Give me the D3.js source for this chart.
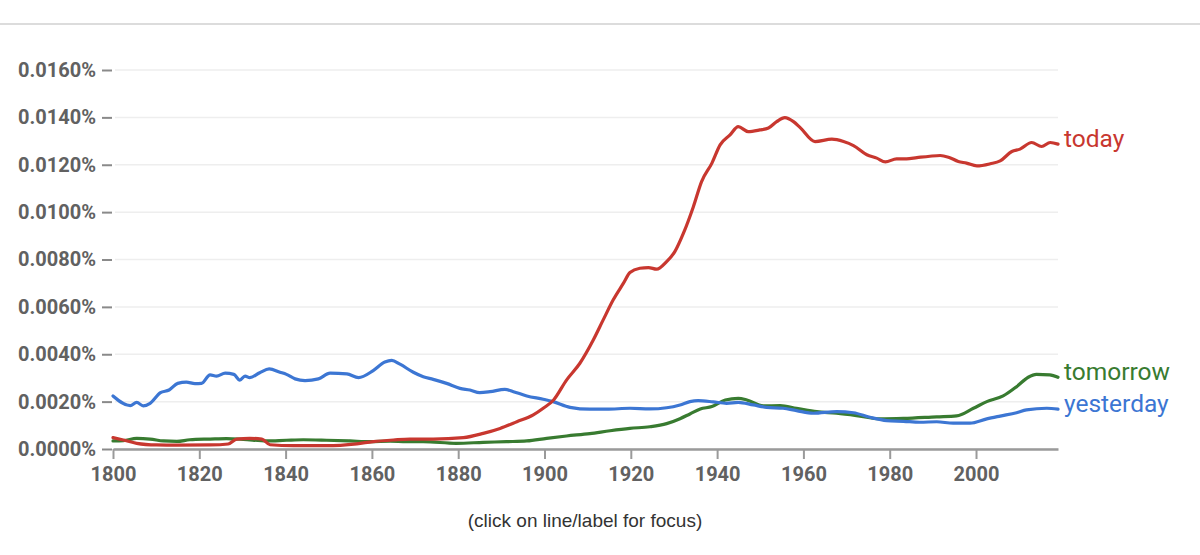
<!DOCTYPE html>
<html>
<head>
<meta charset="utf-8">
<script src="https://cdn.jsdelivr.net/npm/d3@7"></script>
<style>
	body { margin: 0; background: white; }
</style>
</head>
<body>
<script>
// values in percent
var todayYears = [1800, 1802.4, 1805.5, 1810.1, 1814.8, 1822.5, 1826.7, 1828.7, 1831.7, 1834.5, 1836.4, 1841.8, 1849.5, 1856.5, 1860.3, 1865, 1868.8, 1874.2, 1881.2, 1885.8, 1889.7, 1893.6, 1897.4, 1899.7, 1902.1, 1905.1, 1908.2, 1911.3, 1913.6, 1915.9, 1918.3, 1919.8, 1922.1, 1924.1, 1926, 1928.3, 1930.2, 1932.2, 1934.5, 1936.4, 1938.8, 1940.7, 1943, 1944.9, 1947.2, 1949.9, 1951.9, 1953.8, 1955.7, 1957.7, 1959.2, 1962.7, 1966.6, 1969.3, 1971.6, 1974.7, 1977, 1979, 1981.6, 1983.9, 1986.3, 1989.3, 1991.7, 1993.6, 1995.9, 1997.8, 2000.2, 2003.3, 2005.6, 2008.3, 2010.2, 2012.9, 2015.2, 2017.2, 2019];
var todayValues = [0.00048, 0.00038, 0.00024, 0.00017, 0.00016, 0.00017, 0.00021, 0.00042, 0.00045, 0.00042, 0.00018, 0.00014, 0.00014, 0.00022, 0.00031, 0.00038, 0.00042, 0.00042, 0.00048, 0.00066, 0.00087, 0.00115, 0.00144, 0.00172, 0.00207, 0.00291, 0.00362, 0.00460, 0.00545, 0.00629, 0.00700, 0.00745, 0.00763, 0.00766, 0.00759, 0.00791, 0.00833, 0.00911, 0.01023, 0.01129, 0.01207, 0.01284, 0.01326, 0.01361, 0.01340, 0.01347, 0.01355, 0.01382, 0.01399, 0.01382, 0.01358, 0.01298, 0.01308, 0.01298, 0.01281, 0.01242, 0.01228, 0.01212, 0.01225, 0.01225, 0.01230, 0.01236, 0.01239, 0.01232, 0.01214, 0.01207, 0.01195, 0.01204, 0.01216, 0.01256, 0.01266, 0.01294, 0.01277, 0.01294, 0.01287];

var tomorrowYears = [1800, 1802.4, 1805.5, 1808.6, 1811.7, 1814.8, 1817.8, 1822.5, 1826.3, 1830.2, 1835.6, 1840.2, 1844.1, 1849.5, 1854.9, 1859.6, 1864.2, 1868, 1871.9, 1879.6, 1885.8, 1891.2, 1895.9, 1900.5, 1905.1, 1910.5, 1915.2, 1919.8, 1924.4, 1928.3, 1931.4, 1933.7, 1936.1, 1938.8, 1941.9, 1944.9, 1946.9, 1950.7, 1954.6, 1958.4, 1963.1, 1967.7, 1972.3, 1977.8, 1983.2, 1990.9, 1995.5, 1999.4, 2002.5, 2006.3, 2009.4, 2012.1, 2014, 2017.1, 2019];
var tomorrowValues = [0.00034, 0.00035, 0.00045, 0.00042, 0.00034, 0.00032, 0.00039, 0.00042, 0.00044, 0.00041, 0.00034, 0.00037, 0.00039, 0.00037, 0.00034, 0.00031, 0.00033, 0.00031, 0.00031, 0.00024, 0.00028, 0.00031, 0.00034, 0.00045, 0.00055, 0.00065, 0.00077, 0.00087, 0.00094, 0.00107, 0.00128, 0.00148, 0.00169, 0.00179, 0.00207, 0.00214, 0.00207, 0.00182, 0.00183, 0.00172, 0.00158, 0.00151, 0.00141, 0.00127, 0.00129, 0.00136, 0.00140, 0.00172, 0.00200, 0.00224, 0.00263, 0.00303, 0.00315, 0.00313, 0.00303];

var yesterdayYears = [1800, 1804, 1805.5, 1807, 1808.6, 1811, 1813, 1815, 1817, 1819, 1820.5, 1822.5, 1824, 1826, 1828, 1829.4, 1830.6, 1831.7, 1834, 1836.2, 1838.7, 1840.2, 1842.2, 1844.5, 1847.6, 1850.3, 1854.2, 1856.9, 1860.3, 1863, 1864.6, 1866.5, 1869.6, 1871.9, 1874.2, 1877.3, 1880.4, 1882.7, 1885, 1887.4, 1890.8, 1892.8, 1895.9, 1899.7, 1902, 1905.9, 1910.5, 1914.4, 1919.8, 1924.4, 1928.3, 1931.4, 1933.7, 1935.6, 1939.1, 1942.2, 1944.9, 1948.4, 1951.5, 1955.3, 1958.4, 1962.3, 1967.7, 1971.6, 1975.4, 1979.3, 1983.2, 1987, 1990.9, 1994.7, 1998.6, 2002.5, 2005.6, 2009.4, 2011.7, 2016.4, 2019];
var yesterdayValues = [0.00224, 0.00183, 0.00197, 0.00182, 0.00193, 0.00238, 0.00249, 0.00277, 0.00282, 0.00276, 0.00277, 0.00313, 0.00308, 0.00320, 0.00315, 0.00291, 0.00308, 0.00301, 0.00322, 0.00338, 0.00324, 0.00315, 0.00296, 0.00289, 0.00296, 0.00320, 0.00317, 0.00301, 0.00331, 0.00367, 0.00374, 0.00358, 0.00324, 0.00305, 0.00294, 0.00277, 0.00256, 0.00249, 0.00238, 0.00242, 0.00252, 0.00242, 0.00224, 0.00210, 0.00200, 0.00176, 0.00168, 0.00168, 0.00172, 0.00169, 0.00174, 0.00186, 0.00200, 0.00204, 0.00199, 0.00193, 0.00197, 0.00186, 0.00176, 0.00172, 0.00162, 0.00151, 0.00158, 0.00153, 0.00134, 0.00120, 0.00117, 0.00113, 0.00115, 0.00109, 0.00109, 0.00127, 0.00139, 0.00153, 0.00165, 0.00172, 0.00168];

var seriesNames = ["tomorrow", "yesterday", "today"];
var seriesColors = ["#387b30", "#3c76d3", "#c8372f"];

var xTicks = [1800, 1820, 1840, 1860, 1880, 1900, 1920, 1940, 1960, 1980, 2000];
var yTicks = [0, 0.002, 0.004, 0.006, 0.008, 0.010, 0.012, 0.014, 0.016];

var width = 1200;
var height = 555;

var plotLeft = 113;
var plotRight = 1058;
var plotTop = 70;
var plotBottom = 449;

var axisFont = "Roboto, 'Noto Sans', sans-serif";

var svg = d3.select("body").append("svg")
		.attr("width", width)
		.attr("height", height)
		.style("display", "block")

// thin rule along the top of the page
svg.append("line")
		.attr("x1", 0)
		.attr("x2", width)
		.attr("y1", 24)
		.attr("y2", 24)
		.attr("stroke", "#dcdcdc")
		.attr("stroke-width", 2)

var xScale = d3.scaleLinear()
	.domain([1800, 2019])
	.range([plotLeft, plotRight])

var yScale = d3.scaleLinear()
	.domain([0, 0.016])
	.range([plotBottom, plotTop])

var grid = svg.append("g")
		.attr("class", "grid")

grid.selectAll("line")
		.data(yTicks)
		.join("line")
		.attr("x1", plotLeft + 2)
		.attr("x2", plotRight)
		.attr("y1", d => yScale(d))
		.attr("y2", d => yScale(d))
		.attr("stroke", "#eeeeee")
		.attr("stroke-width", 1.5)

var yAxis = svg.append("g")
	.attr("class", "yAxis")
	.attr("transform", "translate(" + (plotLeft - 1) + ", 0)")
	.call(
		d3.axisLeft(yScale)
			.tickValues(yTicks)
			.tickSize(10)
			.tickPadding(6)
			.tickFormat(d => d3.format(".4f")(d) + "%")
	);

yAxis.select(".domain").remove();
yAxis.selectAll(".tick line")
		.attr("stroke", "#8a8a8a")
		.attr("stroke-width", 2)
yAxis.selectAll(".tick text")
		.style("font-family", axisFont)
		.style("font-size", "20px")
		.style("font-weight", "bold")
		.attr("fill", "#616161")

var xAxis = svg.append("g")
	.attr("class", "xAxis")
	.attr("transform", "translate(0," + plotBottom + ")")
	.call(
		d3.axisBottom(xScale)
			.tickValues(xTicks)
			.tickSize(10)
			.tickPadding(8)
			.tickSizeOuter(0)
			.tickFormat(d3.format("d"))
	);

xAxis.select(".domain")
		.attr("stroke", "#9a9a9a")
		.attr("stroke-width", 2.5)
xAxis.selectAll(".tick line")
		.attr("stroke", "#9a9a9a")
		.attr("stroke-width", 2)
xAxis.selectAll(".tick text")
		.style("font-family", axisFont)
		.style("font-size", "20px")
		.style("font-weight", "bold")
		.attr("fill", "#616161")

var seriesData = [
	d3.zip(tomorrowYears, tomorrowValues),
	d3.zip(yesterdayYears, yesterdayValues),
	d3.zip(todayYears, todayValues)
];

var lineGenerator = d3.line()
	.x(d => xScale(d[0]))
	.y(d => yScale(d[1]))
	.curve(d3.curveMonotoneX)

var lines = svg.append("g")
		.attr("class", "lines")

lines.selectAll("path")
		.data(seriesData)
		.join("path")
		.attr("d", lineGenerator)
		.attr("fill", "none")
		.attr("stroke", (d, i) => seriesColors[i])
		.attr("stroke-width", 3.2)
		.attr("stroke-linejoin", "round")
		.attr("stroke-linecap", "round")

// names at the right end of each line
svg.append("g")
		.attr("class", "labels")
	.selectAll("text")
		.data(seriesData)
		.join("text")
		.attr("x", plotRight + 6)
		.attr("y", d => yScale(d[d.length - 1][1]) + 3)
		.attr("fill", (d, i) => seriesColors[i])
		.style("font-family", axisFont)
		.style("font-size", "24.5px")
		.text((d, i) => seriesNames[i])

svg.append("text")
		.attr("x", 585)
		.attr("y", 527)
		.attr("text-anchor", "middle")
		.attr("fill", "#333")
		.style("font-family", "'Liberation Sans', Arial, sans-serif")
		.style("font-size", "19px")
		.text("(click on line/label for focus)")
</script>
</body>
</html>
